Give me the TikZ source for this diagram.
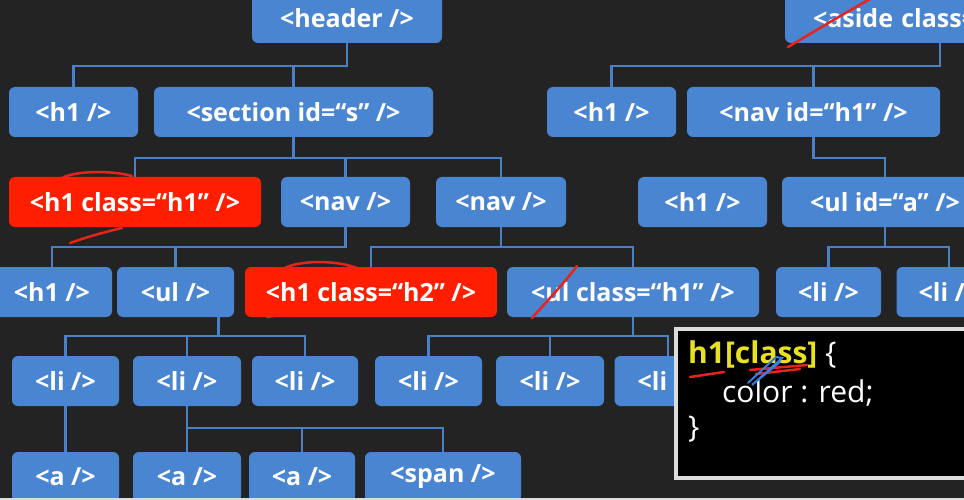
\documentclass[tikz,border=0pt]{standalone}
\usepackage{fontspec}
\setmainfont{Open Sans}
\usetikzlibrary{positioning}
\definecolor{bgdark}{HTML}{232323}
\definecolor{tagblue}{HTML}{4A85D2}
\definecolor{linkblue}{HTML}{4A80C6}
\definecolor{hotred}{HTML}{FF1E00}
\definecolor{inkred}{HTML}{E8231A}
\definecolor{inkblue}{HTML}{3A7BE0}
\definecolor{codeyellow}{HTML}{E8E020}
\definecolor{panelrim}{HTML}{DCDCDC}

\begin{document}
\begin{tikzpicture}[x=1pt, y=-1pt,
  tag/.style={fill=tagblue, rounded corners=6pt, text=white, inner sep=0pt,
    minimum height=50pt, font=\fontsize{25}{30}\selectfont\bfseries},
  hot/.style={tag, fill=hotred},
  link/.style={draw=linkblue, line width=2.5pt},
  ink/.style={draw=inkred, line width=2.5pt, line cap=round},
  code/.style={anchor=base west, inner sep=0pt, text=white,
    font=\fontsize{30}{38}\selectfont}]
\useasboundingbox (0,0) rectangle (964,500);
\clip (0,0) rectangle (964,500);
\fill[bgdark] (0,0) rectangle (964,500);

% row 1
\node[tag, minimum width=190] (header) at (347,18) {<header />};
\node[tag, minimum width=254, text width=254, inner xsep=28, align=left]
  (aside) at (940,18) {<aside class=};
% row 2
\node[tag, minimum width=129] (h1a) at (73.5,112) {<h1 />};
\node[tag, minimum width=279] (section) at (293.5,112) {<section id=“s” />};
\node[tag, minimum width=129] (h1b) at (611.5,112) {<h1 />};
\node[tag, minimum width=253] (navid) at (813.5,112) {<nav id=“h1” />};
% row 3
\node[hot, minimum width=252] (h1hot) at (135,202) {<h1 class=“h1” />};
\node[tag, minimum width=129] (navA) at (345.5,202) {<nav />};
\node[tag, minimum width=130] (navB) at (501,202) {<nav />};
\node[tag, minimum width=129] (h1c) at (702.5,202) {<h1 />};
\node[tag, minimum width=206] (ulid) at (885,202) {<ul id=“a” />};
% row 4
\node[tag, minimum width=120] (h1d) at (52,292) {<h1 />};
\node[tag, minimum width=117] (ul) at (175.5,292) {<ul />};
\node[hot, minimum width=252] (h2hot) at (371,292) {<h1 class=“h2” />};
\node[tag, minimum width=252] (ulclass) at (633,292) {<ul class=“h1” />};
\node[tag, minimum width=105] (liR1) at (828.5,292) {<li />};
\node[tag, minimum width=105] (liR2) at (949,292) {<li />};
% row 5
\node[tag, minimum width=107] (liA) at (65.5,381) {<li />};
\node[tag, minimum width=108] (liB) at (187,381) {<li />};
\node[tag, minimum width=106] (liC) at (305,381) {<li />};
\node[tag, minimum width=107] (liD) at (428.5,381) {<li />};
\node[tag, minimum width=108] (liE) at (550,381) {<li />};
\node[tag, minimum width=107] (liF) at (668,381) {<li />};
% row 6
\node[tag, minimum width=107] (aA) at (65.5,477) {<a />};
\node[tag, minimum width=108] (aB) at (187,477) {<a />};
\node[tag, minimum width=106] (aC) at (302,477) {<a />};
\node[tag, minimum width=156] (span) at (443,477) {<span />};

% connectors
\foreach \c in {h1a,section}
  \draw[link] (header.south) -- ++(0,23) -| (\c.north);
\foreach \c in {h1b,navid}
  \draw[link] (aside.south) -- ++(0,23) -| (\c.north);
\foreach \c in {h1hot,navA,navB}
  \draw[link] (section.south) -- ++(0,21) -| (\c.north);
\draw[link] (navid.south) -- ++(0,21) -| (ulid.north);
\foreach \c in {h1d,ul}
  \draw[link] (navA.south) -- ++(0,20) -| (\c.north);
\foreach \c in {h2hot,ulclass}
  \draw[link] (navB.south) -- ++(0,20) -| (\c.north);
\foreach \c in {liR1,liR2}
  \draw[link] (ulid.south) -- ++(0,20) -| (\c.north);
\foreach \c in {liA,liB,liC}
  \draw[link] ([xshift=43]ul.south) -- ++(0,19) -| (\c.north);
\foreach \c in {liD,liE,liF}
  \draw[link] (ulclass.south) -- ++(0,19) -| (\c.north);
\draw[link] (liA.south) -- (aA.north);
\foreach \c in {aB,aC,span}
  \draw[link] (liB.south) -- ++(0,22) -| (\c.north);

% css panel
\node[draw=panelrim, line width=4pt, fill=black, inner sep=0pt,
  anchor=north west, minimum width=320, minimum height=149] (panel) at (674,327) {};
\node[code] (sel) at (688,363) {{\color{codeyellow}\bfseries h1[class]} \{};
\node[code] (rule) at (722,402) {color : red;};
\node[code] (close) at (688,437) {\}};

% pen marks
\draw[ink] (788,47) .. controls (820,28) and (850,10) .. (872,-2);
\draw[ink] (62,178) .. controls (75,171) and (110,170) .. (132,176);
\draw[ink] (70,243) .. controls (90,236) and (105,232) .. (122,228);
\draw[ink] (282,270) .. controls (290,262) and (330,258) .. (357,268);
\draw[ink] (267,317) -- (280,315);
\draw[ink] (532,318) .. controls (548,300) and (565,282) .. (577,266);
\draw[ink] (690,377) -- (724,372);
\draw[ink] (750,370) -- (807,365);
\draw[ink] (756,374) -- (800,369);
\draw[draw=inkblue, line width=2pt, line cap=round]
  (748,383) -- (776,357) -- (782,358) -- (752,385) -- (780,362);

% strip at the foot
\fill[panelrim] (0,497.5) rectangle (964,500);
\end{tikzpicture}
\end{document}
